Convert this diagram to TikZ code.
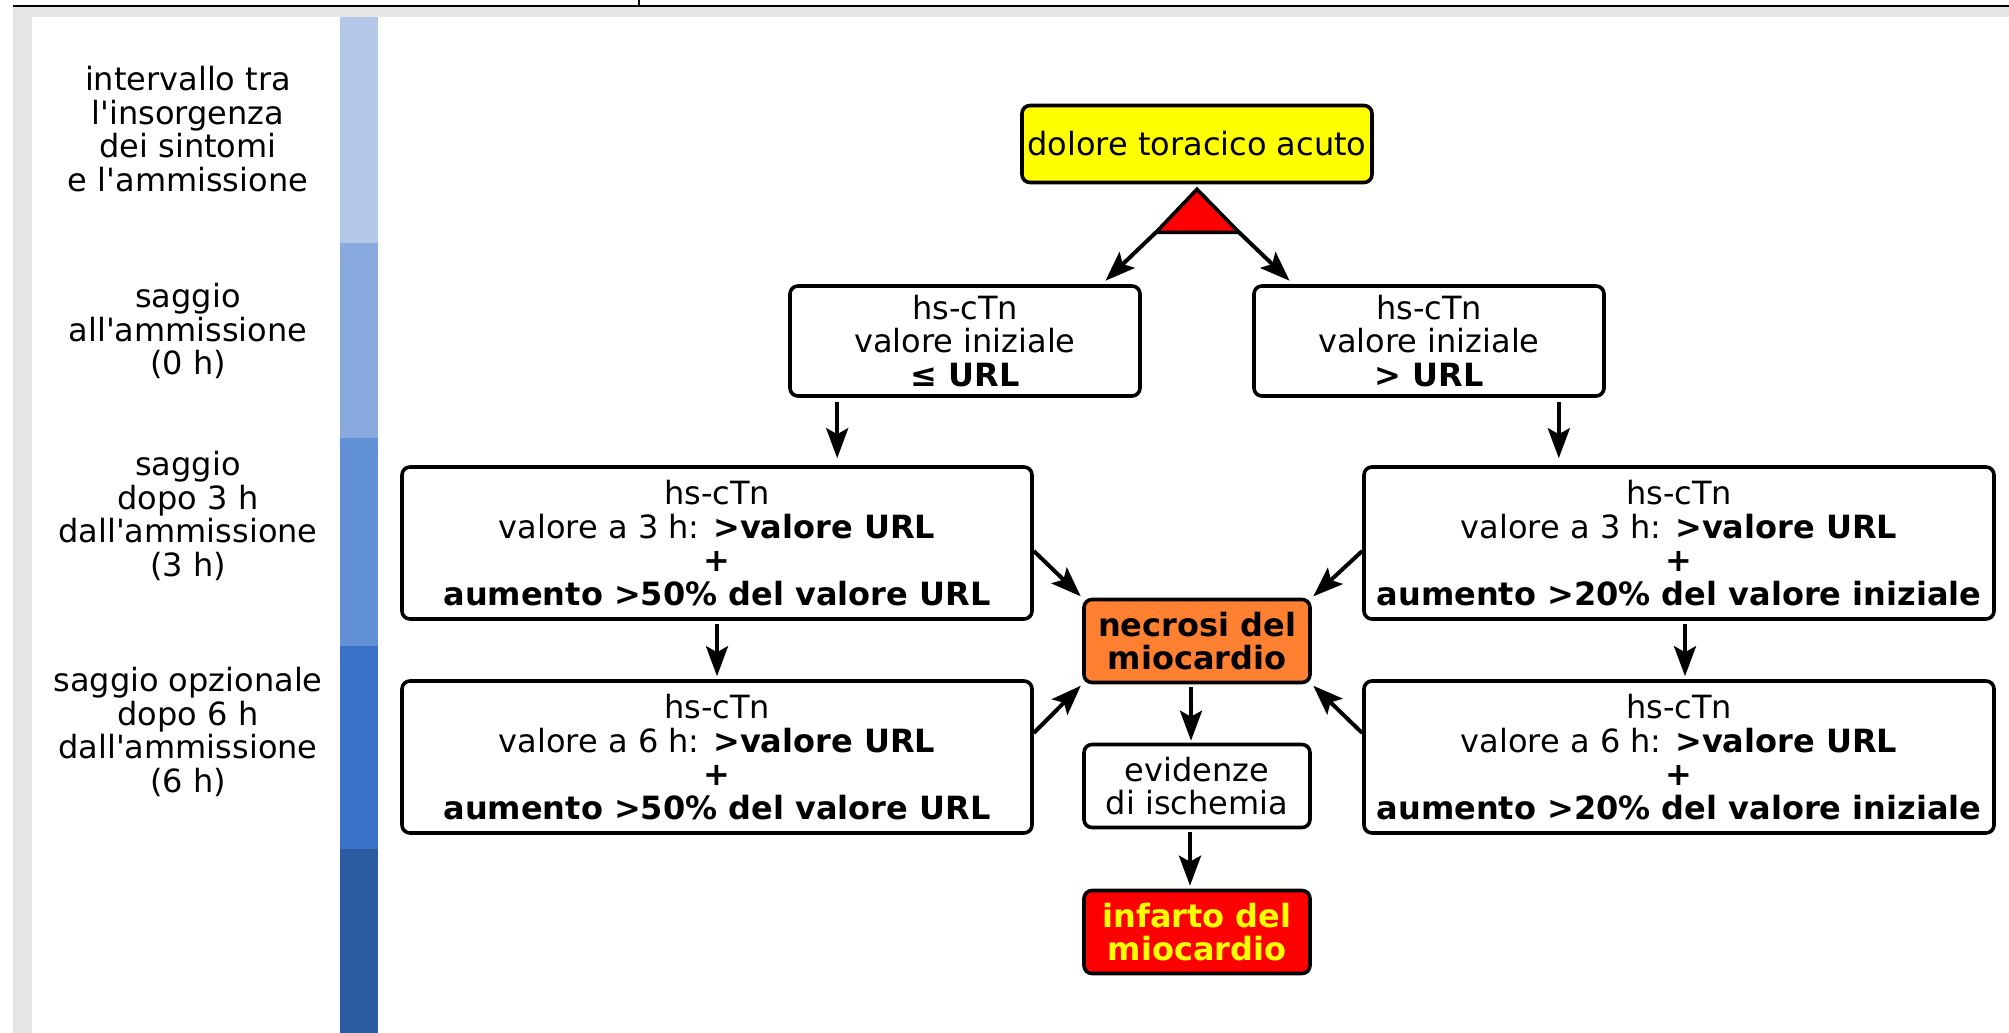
\documentclass[tikz,border=0pt]{standalone}
\usepackage{fontspec}
\setmainfont{DejaVu Sans}[Ligatures=TeXOff]
\usetikzlibrary{arrows.meta,positioning,calc}
\definecolor{framegray}{HTML}{E6E6E6}
\definecolor{segone}   {HTML}{B3C7E8}
\definecolor{segtwo}   {HTML}{89AADF}
\definecolor{segthree} {HTML}{6290D5}
\definecolor{segfour}  {HTML}{3A72C8}
\definecolor{segfive}  {HTML}{2D5B9F}
\definecolor{painyel}  {HTML}{FFFF00}
\definecolor{necorange}{HTML}{FF8030}
\definecolor{mired}    {HTML}{FF0000}
\begin{document}
\begin{tikzpicture}[
  x=0.5pt, y=-0.5pt,
  txt/.style  ={font=\fontsize{16}{16.7}\selectfont},
  box/.style  ={draw,line width=1.8pt,rounded corners=4pt,fill=white,
                align=center,inner sep=2pt,txt},
  ibox/.style ={box,minimum width=175pt,minimum height=55pt},
  lbox/.style ={box,minimum width=315pt,minimum height=76pt},
  cbox/.style ={box,minimum width=113pt,minimum height=41.5pt},
  pain/.style ={box,fill=painyel,minimum width=175pt,minimum height=38.5pt},
  necro/.style={cbox,fill=necorange,font=\fontsize{16}{16.7}\selectfont\bfseries},
  infct/.style={cbox,fill=mired,text=painyel,font=\fontsize{16}{16.7}\selectfont\bfseries},
  hint/.style ={align=center,txt},
  tri/.style  ={draw,line width=1.8pt,fill=mired,line join=miter},
  arr/.style  ={-{Stealth[length=15pt,width=11pt,inset=3pt]},line width=2pt}
]
%% Frame and time column
\useasboundingbox (0,0) rectangle (2009,1033);
\fill[white] (0,0) rectangle (2009,1033);
\fill[framegray] (13,7) rectangle (2009,17);
\fill[framegray] (13,7) rectangle (32,1033);
\draw[line width=1.4pt] (13,6) -- (2009,6);
\draw[line width=1.4pt] (639,0) -- (639,6);
\foreach \ya/\yb/\c in {17/243/segone,243/438/segtwo,438/646/segthree,
                        646/849/segfour,849/1033/segfive}
  \fill[\c] (340,\ya) rectangle (378,\yb);
%% Time labels
\node[hint] (onset) at (188,129) {intervallo tra\\l'insorgenza\\dei sintomi\\e l'ammissione};
\node[hint] (hzero) at (188,331) {saggio\\all'ammissione\\(0 h)};
\node[hint] (hthree) at (188,516) {saggio\\dopo 3 h\\dall'ammissione\\(3 h)};
\node[hint] (hsix) at (188,732) {saggio opzionale\\dopo 6 h\\dall'ammissione\\(6 h)};
%% Start
\node[pain] (pain) at (1197,144) {dolore toracico acuto};
\coordinate (apex) at ([yshift=-2.5pt]pain.south);
\coordinate (triL) at ([shift={(-41,43)}]apex);
\coordinate (triR) at ([shift={(42,43)}]apex);
\draw[tri] (apex) -- (triL) -- (triR) -- cycle;
%% Initial value
\node[ibox] (lowzero) at (965,341) {hs-cTn\\valore iniziale\\\textbf{≤ URL}};
\node[ibox] (highzero) at (1429,341) {hs-cTn\\valore iniziale\\\textbf{> URL}};
%% 3 h and 6 h
\node[lbox] (lowthree) at (717,543)
  {hs-cTn\\valore a 3 h: \textbf{>valore URL}\\\textbf{+}\\\textbf{aumento >50\% del valore URL}};
\node[lbox] (lowsix) at (717,757)
  {hs-cTn\\valore a 6 h: \textbf{>valore URL}\\\textbf{+}\\\textbf{aumento >50\% del valore URL}};
\node[lbox] (highthree) at (1679,543)
  {hs-cTn\\valore a 3 h: \textbf{>valore URL}\\\textbf{+}\\\textbf{aumento >20\% del valore iniziale}};
\node[lbox] (highsix) at (1679,757)
  {hs-cTn\\valore a 6 h: \textbf{>valore URL}\\\textbf{+}\\\textbf{aumento >20\% del valore iniziale}};
%% Outcome column
\node[necro] (necrosis) at (1197,641) {necrosi del\\miocardio};
\node[cbox] (ischemia) at (1197,786) {evidenze\\di ischemia};
\node[infct] (infarct) at (1197,932) {infarto del\\miocardio};
%% Arrows
\draw[arr,shorten >=2.5pt] (triL) -- ([xshift=-20pt]lowzero.north east);
\draw[arr,shorten >=2.5pt] (triR) -- ([xshift=20.5pt]highzero.north west);
\draw[arr,shorten <=2pt,shorten >=3.5pt] ([xshift=24.5pt]lowzero.south west)
  -- ([xshift=24.5pt]lowzero.south west |- lowthree.north);
\draw[arr,shorten <=2pt,shorten >=3.5pt] ([xshift=-23.5pt]highzero.south east)
  -- ([xshift=-23.5pt]highzero.south east |- highthree.north);
\draw[arr,shorten <=1.5pt,shorten >=1.5pt] (lowthree.south) -- (lowsix.north);
\draw[arr,shorten <=1.5pt,shorten >=1.5pt] ([xshift=3pt]highthree.south)
  -- ([xshift=3pt]highthree.south |- highsix.north);
\draw[arr,shorten >=1pt] ([yshift=-4pt]lowthree.east) -- (necrosis.north west);
\draw[arr,shorten >=1pt] ([yshift=12pt]lowsix.east) -- (necrosis.south west);
\draw[arr,shorten >=1pt] ([yshift=-4pt]highthree.west) -- (necrosis.north east);
\draw[arr,shorten >=1pt] ([yshift=12pt]highsix.west) -- (necrosis.south east);
\draw[arr,shorten <=1.5pt,shorten >=1pt] ([xshift=-3pt]necrosis.south)
  -- ([xshift=-3pt]necrosis.south |- ischemia.north);
\draw[arr,shorten <=1.5pt,shorten >=1.5pt] ([xshift=-3.5pt]ischemia.south)
  -- ([xshift=-3.5pt]ischemia.south |- infarct.north);
\end{tikzpicture}
\end{document}
